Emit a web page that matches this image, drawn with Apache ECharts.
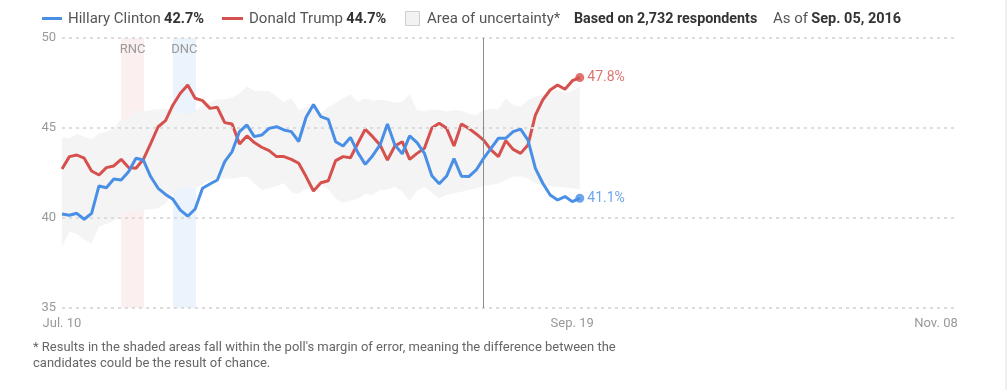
<!DOCTYPE html>
<html>
<head>
<meta charset="utf-8">
<script src="https://cdn.jsdelivr.net/npm/echarts@6/dist/echarts.min.js"></script>
<style>
  html, body { margin: 0; padding: 0; background: #fff; }
  #chart { width: 1007px; height: 390px; }
</style>
</head>
<body>
<div id="chart"></div>
<script>
// ---- Data (day index 0 = Jul. 10, one point per day) ----
const clinton = [40.22, 40.15, 40.26, 39.93, 40.26, 41.78, 41.68, 42.17, 42.11, 42.57,
  43.32, 43.22, 42.29, 41.65, 41.31, 41.04, 40.44, 40.10, 40.50, 41.65,
  41.89, 42.11, 43.13, 43.69, 44.80, 45.17, 44.52, 44.61, 44.98, 45.07,
  44.89, 44.80, 44.25, 45.60, 46.30, 45.63, 45.48, 44.24, 44.00, 44.48,
  43.63, 42.98, 43.46, 44.06, 45.22, 44.06, 43.56, 44.56, 44.19, 43.59,
  42.35, 41.90, 42.33, 43.30, 42.32, 42.30, 42.67, 43.31, 43.87, 44.43,
  44.43, 44.80, 44.94, 44.33, 42.76, 41.93, 41.28, 41.00, 41.19, 40.91, 41.1];
const trump = [42.72, 43.41, 43.50, 43.32, 42.61, 42.39, 42.80, 42.89, 43.26, 42.81,
  42.76, 43.26, 44.15, 45.07, 45.41, 46.28, 46.93, 47.39, 46.65, 46.52,
  46.09, 46.15, 45.30, 45.22, 44.11, 44.56, 44.19, 43.93, 43.74, 43.41,
  43.41, 43.26, 43.04, 42.30, 41.50, 41.96, 42.07, 43.19, 43.41, 43.35,
  44.15, 44.93, 44.52, 44.06, 43.22, 44.00, 44.24, 43.26, 43.59, 43.87,
  45.00, 45.26, 44.98, 44.00, 45.22, 44.98, 44.67, 44.33, 43.78, 43.41,
  44.30, 43.81, 43.59, 44.06, 45.72, 46.56, 47.11, 47.39, 47.15, 47.63, 47.8];
const upperBound = [44.48, 44.43, 44.67, 44.52, 44.37, 44.70, 44.80, 44.93, 45.54, 45.48,
  46.00, 45.91, 46.00, 46.04, 46.09, 46.00, 45.82, 45.72, 45.95, 46.25,
  46.43, 46.59, 46.60, 46.70, 46.92, 47.30, 47.06, 47.07, 47.06, 46.76,
  46.45, 46.65, 45.98, 46.14, 46.22, 45.84, 46.15, 46.40, 46.65, 46.87,
  46.46, 46.65, 46.52, 46.59, 46.52, 46.41, 46.46, 46.89, 46.00, 45.91,
  46.04, 46.00, 45.91, 46.00, 45.96, 45.78, 45.72, 46.00, 46.09, 46.04,
  46.65, 46.28, 46.19, 46.56, 46.74, 46.83, 47.02, 47.11, 46.96, 47.07, 47.30];
const lowerBound = [38.41, 39.24, 39.11, 38.81, 38.59, 39.52, 39.67, 39.85, 40.17, 40.35,
  40.35, 40.44, 40.48, 40.54, 40.81, 41.37, 41.70, 41.74, 41.65, 41.88,
  42.10, 42.16, 42.20, 42.20, 42.25, 42.31, 41.90, 41.56, 41.65, 41.78,
  41.95, 41.43, 41.35, 41.62, 41.74, 41.89, 41.59, 41.09, 40.85, 40.96,
  41.09, 41.33, 41.28, 41.56, 41.59, 41.74, 41.46, 40.96, 41.52, 41.74,
  41.37, 41.09, 41.28, 41.37, 41.46, 41.56, 41.65, 41.78, 41.83, 41.93,
  42.11, 42.30, 42.30, 42.20, 41.93, 41.83, 41.78, 41.74, 41.70, 41.65, 41.60];

const conventionNames = ['RNC', 'DNC'];
const conventionStart = [8, 15];
const conventionEnd = [11.1, 18.1];
const asOfDay = 57;

const xTickDays = [0, 71, 121];
const xTickLabels = ['Jul. 10', 'Sep. 19', 'Nov. 08'];
const xMin = 0, xMax = 121;
const yTicks = [35, 40, 45, 50];
const yMin = 35, yMax = 50, yStep = 5;

const clintonName = 'Hillary Clinton', clintonPct = '42.7%';
const trumpName = 'Donald Trump', trumpPct = '44.7%';
const areaName = 'Area of uncertainty*';
const respondentsText = 'Based on 2,732 respondents';
const asOfText = 'Sep. 05, 2016';
const footnote = "* Results in the shaded areas fall within the poll's margin of error, meaning the difference between the\ncandidates could be the result of chance.";

// ---- Styles ----
const BLUE = '#4a8fe6';
const RED = '#d6504e';
const GRAY_AREA = '#f4f4f4';
const FONT = 'Roboto, "Liberation Sans", Arial, sans-serif';

const pairs = arr => arr.map((v, i) => [i, v]);
const lastIdx = clinton.length - 1;
const regular = { fontSize: 15, fill: '#555', fontFamily: FONT };
const bold = { fontSize: 14.5, fill: '#333', fontWeight: 'bold', fontFamily: FONT };

const chart = echarts.init(document.getElementById('chart'), null, { renderer: 'canvas' });

const option = {
  animation: false,
  backgroundColor: '#fff',
  textStyle: { fontFamily: FONT },
  grid: { left: 62, right: 50, top: 38, bottom: 82, containLabel: false },
  xAxis: {
    type: 'value', min: xMin, max: xMax,
    axisLine: { show: false }, axisTick: { show: false }, splitLine: { show: false },
    axisLabel: {
      customValues: xTickDays,
      color: '#999', fontSize: 13, margin: 9,
      formatter: v => {
        const k = xTickDays.indexOf(v);
        const t = k >= 0 ? xTickLabels[k] : '';
        if (k === 1) return '{m|' + t + '}';
        if (k === 2) return '{r|' + t + '}';
        return '{l|' + t + '}';
      },
      rich: {
        l: { color: '#999', fontSize: 13, fontFamily: FONT },
        m: { color: '#999', fontSize: 13, fontFamily: FONT, padding: [0, 30, 0, 0] },
        r: { color: '#999', fontSize: 13, fontFamily: FONT, padding: [0, 42, 0, 0] }
      }
    }
  },
  yAxis: {
    type: 'value', min: yMin, max: yMax, interval: yStep,
    axisLine: { show: false }, axisTick: { show: false },
    axisLabel: { color: '#999', fontSize: 13, margin: 6, fontFamily: FONT },
    splitLine: { show: false }
  },
  series: [
    {
      // convention bands (underneath everything)
      name: 'conventions', type: 'line', data: [], z: 1, silent: true,
      markArea: {
        silent: true,
        label: { show: true, position: 'insideTop', distance: 5, color: '#9a9a9a', fontSize: 13, fontFamily: FONT },
        data: conventionNames.map((n, k) => [
          { name: n, xAxis: conventionStart[k], yAxis: yMax,
            itemStyle: { color: k === 0 ? '#fcefef' : '#ebf3fd' } },
          { xAxis: conventionEnd[k], yAxis: yMin }
        ])
      }
    },
    {
      // area of uncertainty polygon
      name: areaName, type: 'custom', z: 2, silent: true,
      data: upperBound.map((u, i) => [i, u, lowerBound[i]]),
      encode: { x: 0, y: [1, 2] },
      renderItem: (params, api) => {
        if (params.dataIndex !== 0) return null;
        const pts = [];
        for (let i = 0; i < upperBound.length; i++) pts.push(api.coord([i, upperBound[i]]));
        for (let i = lowerBound.length - 1; i >= 0; i--) pts.push(api.coord([i, lowerBound[i]]));
        return { type: 'polygon', shape: { points: pts }, style: { fill: GRAY_AREA } };
      }
    },
    {
      // dotted gridlines on top of the shaded area, plus the "as of" line
      name: 'grid', type: 'line', data: [], z: 3, silent: true,
      markLine: {
        silent: true, symbol: 'none', label: { show: false },
        data: yTicks.map(t => ({ yAxis: t, lineStyle: { color: '#dcdcdc', width: 2, type: [3, 4] } }))
          .concat([{ xAxis: asOfDay, lineStyle: { color: '#8c8c8c', width: 1, type: 'solid' } }])
      }
    },
    {
      name: trumpName, type: 'line', data: pairs(trump), symbol: 'none', z: 4,
      lineStyle: { color: RED, width: 3 }
    },
    {
      name: clintonName, type: 'line', data: pairs(clinton), symbol: 'none', z: 5,
      lineStyle: { color: BLUE, width: 3 }
    },
    {
      type: 'scatter', z: 6, symbolSize: 9,
      data: [
        { value: [lastIdx, trump[lastIdx]], itemStyle: { color: RED }, label: { color: RED } },
        { value: [lastIdx, clinton[lastIdx]], itemStyle: { color: BLUE }, label: { color: BLUE } }
      ],
      label: {
        show: true, position: 'right', distance: 3, fontSize: 14, fontFamily: FONT,
        formatter: p => p.value[1].toFixed(1) + '%'
      }
    }
  ],
  graphic: [
    { type: 'rect', shape: { x: 42, y: 17, width: 20, height: 3 }, style: { fill: BLUE } },
    { type: 'text', x: 68, y: 19, style: {
        text: '{n|' + clintonName + '} {b|' + clintonPct + '}', verticalAlign: 'middle',
        rich: { n: regular, b: bold } } },
    { type: 'rect', shape: { x: 222, y: 17, width: 21, height: 3 }, style: { fill: RED } },
    { type: 'text', x: 249, y: 19, style: {
        text: '{n|' + trumpName + '} {b|' + trumpPct + '}', verticalAlign: 'middle',
        rich: { n: regular, b: bold } } },
    { type: 'rect', shape: { x: 405.5, y: 11.5, width: 14, height: 14 }, style: { fill: '#f2f2f2', stroke: '#cfcfcf', lineWidth: 1 } },
    { type: 'text', x: 427, y: 19, style: { text: areaName, verticalAlign: 'middle', fontSize: 15, fill: '#555', fontFamily: FONT } },
    { type: 'text', x: 574, y: 19, style: { text: respondentsText, verticalAlign: 'middle', fontSize: 14.3, fill: '#333', fontWeight: 'bold', fontFamily: FONT } },
    { type: 'text', x: 773, y: 19, style: {
        text: '{n|As of} {b|' + asOfText + '}', verticalAlign: 'middle',
        rich: { n: regular, b: bold } } },
    { type: 'text', x: 33, y: 340, style: { text: footnote, fontSize: 13, lineHeight: 16, fill: '#666', fontFamily: FONT } },
    { type: 'rect', shape: { x: 1005, y: 0, width: 2, height: 390 }, style: { fill: '#efefef' } }
  ]
};
chart.setOption(option);
</script>
</body>
</html>
